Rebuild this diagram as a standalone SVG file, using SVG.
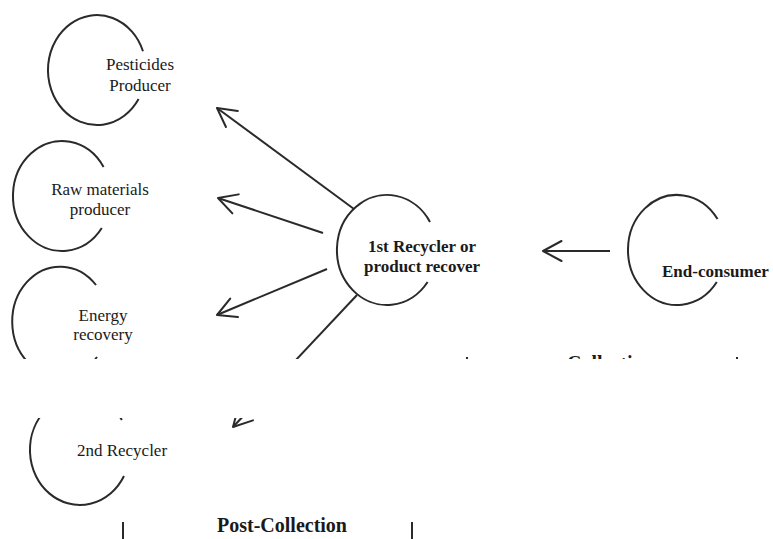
<svg xmlns="http://www.w3.org/2000/svg" width="773" height="539" viewBox="0 0 773 539">
  <defs>
    <style>
      .ring { fill: none; stroke: #2a2a2a; stroke-width: 2; }
      .link { fill: none; stroke: #2a2a2a; stroke-width: 2; }
      .bar { stroke: #2a2a2a; stroke-width: 2; }
      .lbl { font-family: "Liberation Serif", "Times New Roman", serif; font-size: 17px; fill: #1a1a1a; }
      .bold { font-weight: bold; }
      .head { font-family: "Liberation Serif", "Times New Roman", serif; font-size: 20px; font-weight: bold; fill: #1a1a1a; }
      .mid { text-anchor: middle; }
    </style>
    <marker id="arrow" markerUnits="userSpaceOnUse" markerWidth="30" markerHeight="30" viewBox="-24 -15 30 30" refX="0" refY="0" orient="auto">
      <path d="M -18.5 -10 L 0 0 L -18.5 10" fill="none" stroke="#2a2a2a" stroke-width="2" stroke-linecap="round" stroke-linejoin="round"/>
    </marker>
    <!-- the sheet is shown in two strips with a blank gap between them -->
    <clipPath id="strips">
      <rect x="0" y="0" width="773" height="359"/>
      <rect x="0" y="418" width="773" height="121"/>
    </clipPath>
  </defs>

  <rect width="773" height="539" fill="#fff"/>

  <g clip-path="url(#strips)">
    <g id="node-pesticides">
      <path class="ring" d="M 143 51.2 A 49 55 0 1 0 138.6 99.1"/>
      <text class="lbl mid" x="140" y="70">Pesticides</text>
      <text class="lbl mid" x="140" y="91">Producer</text>
    </g>

    <g id="node-raw-materials">
      <path class="ring" d="M 103.6 167 A 49 55 0 1 0 101.8 228"/>
      <text class="lbl mid" x="100" y="195">Raw materials</text>
      <text class="lbl mid" x="100" y="215">producer</text>
    </g>

    <g id="node-energy">
      <path class="ring" d="M 96 285 A 48 55 0 1 0 97 357"/>
      <text class="lbl mid" x="103" y="321">Energy</text>
      <text class="lbl mid" x="103" y="340">recovery</text>
    </g>

    <g id="node-first-recycler">
      <path class="ring" d="M 430 222 A 50 55 0 1 0 427.6 282"/>
      <text class="lbl bold mid" x="422" y="252">1st Recycler or</text>
      <text class="lbl bold mid" x="422" y="272">product recover</text>
    </g>

    <g id="node-end-consumer">
      <path class="ring" d="M 717.5 219 A 49 55 0 1 0 716.8 282"/>
      <text class="lbl bold" x="662" y="277">End-consumer</text>
    </g>

    <g id="node-second-recycler">
      <path class="ring" d="M 121.9 420 A 50 55 0 1 0 124 476"/>
      <text class="lbl mid" x="122" y="456">2nd Recycler</text>
    </g>

    <g id="stage-collection">
      <text class="head" x="567" y="370">Collection</text>
      <line class="bar" x1="467" y1="357" x2="467" y2="375"/>
      <line class="bar" x1="737" y1="357" x2="737" y2="375"/>
    </g>

    <g id="stage-post-collection">
      <text class="head" x="217" y="532">Post-Collection</text>
      <line class="bar" x1="123" y1="522" x2="123" y2="545"/>
      <line class="bar" x1="412" y1="522" x2="412" y2="545"/>
    </g>

    <g id="connectors">
      <line class="link" x1="610" y1="251" x2="543" y2="251" marker-end="url(#arrow)"/>
      <line class="link" x1="354" y1="209" x2="217" y2="108" marker-end="url(#arrow)"/>
      <line class="link" x1="323" y1="233" x2="218" y2="198" marker-end="url(#arrow)"/>
      <line class="link" x1="327" y1="269" x2="217" y2="315" marker-end="url(#arrow)"/>
      <line class="link" x1="357" y1="295" x2="233" y2="427" marker-end="url(#arrow)"/>
    </g>
  </g>
</svg>
